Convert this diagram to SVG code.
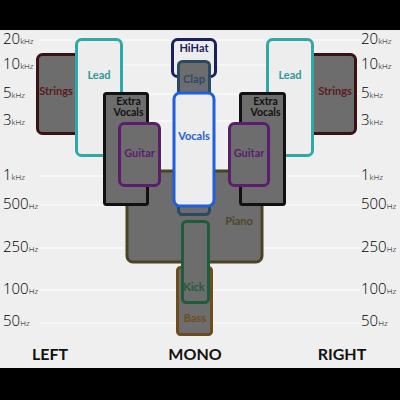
<svg xmlns="http://www.w3.org/2000/svg" width="400" height="400" viewBox="0 0 400 400">
<style>
.ax{font-family:"Open Sans","Liberation Sans",sans-serif;font-weight:300;font-size:15px;fill:#000}
.u{font-size:8px}
.grid{stroke:#ffffff;stroke-width:1.2}
.box{fill:#6d6d6d;stroke-width:3}
.lt{fill:#ededed}
.lb{font-family:"Lato","Liberation Sans",sans-serif;font-weight:bold;font-size:11px;text-anchor:middle}
.ev{font-size:10.5px}
.side{font-family:"Lato","Liberation Sans",sans-serif;font-weight:bold;font-size:16px;fill:#111;text-anchor:middle}
</style>
<rect x="0" y="0" width="400" height="400" fill="#efefef"/>
<rect x="0" y="0" width="400" height="30" fill="#000"/>
<rect x="0" y="368" width="400" height="32" fill="#000"/>
<g id="grid">
<line class="grid" x1="40" y1="40" x2="360" y2="40"/>
<line class="grid" x1="40" y1="65" x2="360" y2="65"/>
<line class="grid" x1="40" y1="94" x2="360" y2="94"/>
<line class="grid" x1="40" y1="121" x2="360" y2="121"/>
<line class="grid" x1="40" y1="176" x2="360" y2="176"/>
<line class="grid" x1="40" y1="205" x2="360" y2="205"/>
<line class="grid" x1="40" y1="248" x2="360" y2="248"/>
<line class="grid" x1="40" y1="290" x2="360" y2="290"/>
<line class="grid" x1="40" y1="323" x2="360" y2="323"/>
</g>
<g id="axis-left" class="ax">
<text x="3" y="44">20<tspan class="u">kHz</tspan></text>
<text x="3" y="69">10<tspan class="u">kHz</tspan></text>
<text x="3" y="98">5<tspan class="u">kHz</tspan></text>
<text x="3" y="125">3<tspan class="u">kHz</tspan></text>
<text x="3" y="180">1<tspan class="u">kHz</tspan></text>
<text x="3" y="209">500<tspan class="u">Hz</tspan></text>
<text x="3" y="252">250<tspan class="u">Hz</tspan></text>
<text x="3" y="294">100<tspan class="u">Hz</tspan></text>
<text x="3" y="326">50<tspan class="u">Hz</tspan></text>
</g>
<g id="axis-right" class="ax">
<text x="361" y="44">20<tspan class="u">kHz</tspan></text>
<text x="361" y="69">10<tspan class="u">kHz</tspan></text>
<text x="361" y="98">5<tspan class="u">kHz</tspan></text>
<text x="361" y="125">3<tspan class="u">kHz</tspan></text>
<text x="361" y="180">1<tspan class="u">kHz</tspan></text>
<text x="361" y="209">500<tspan class="u">Hz</tspan></text>
<text x="361" y="252">250<tspan class="u">Hz</tspan></text>
<text x="361" y="294">100<tspan class="u">Hz</tspan></text>
<text x="361" y="326">50<tspan class="u">Hz</tspan></text>
</g>
<g id="strings-left"><rect class="box" x="37.5" y="54.5" width="50" height="79" rx="5" stroke="#3b1214"/><text class="lb" x="56" y="95" fill="#5c1a1e">Strings</text></g>
<g id="strings-right"><rect class="box" x="305" y="54.5" width="50.5" height="79" rx="5" stroke="#3b1214"/><text class="lb" x="335" y="95" fill="#5c1a1e">Strings</text></g>
<g id="lead-left"><rect class="box lt" x="76.5" y="39.5" width="45" height="116" rx="5" stroke="#2fa8a8"/><text class="lb" x="99" y="79" fill="#2b9a9c">Lead</text></g>
<g id="lead-right"><rect class="box lt" x="267.5" y="39.5" width="45" height="116" rx="5" stroke="#2fa8a8"/><text class="lb" x="290" y="79" fill="#2b9a9c">Lead</text></g>
<g id="piano"><rect class="box" x="127" y="171" width="135" height="91" rx="6" stroke="#4a4420"/><text class="lb" x="239" y="225" fill="#4d4622">Piano</text></g>
<g id="extra-vocals-left"><rect class="box" x="104.5" y="93.5" width="43" height="111" rx="2" stroke="#111"/><text class="lb ev" x="128.5" y="104.5" fill="#111">Extra</text><text class="lb ev" x="128.5" y="116" fill="#111">Vocals</text></g>
<g id="extra-vocals-right"><rect class="box" x="240.5" y="93.5" width="44" height="111" rx="2" stroke="#111"/><text class="lb ev" x="265.5" y="104.5" fill="#111">Extra</text><text class="lb ev" x="265.5" y="116" fill="#111">Vocals</text></g>
<g id="guitar-left"><rect class="box" x="119.5" y="123.5" width="40" height="62" rx="5" stroke="#5b1e6e"/><text class="lb" x="139.5" y="157" fill="#5b1e6e">Guitar</text></g>
<g id="guitar-right"><rect class="box" x="229.5" y="123.5" width="39" height="62" rx="5" stroke="#5b1e6e"/><text class="lb" x="249" y="157" fill="#5b1e6e">Guitar</text></g>
<g id="bass"><rect class="box" x="177.5" y="267.5" width="34" height="67" rx="3" stroke="#6e4c1e"/><text class="lb" x="195" y="322" fill="#6e4c1e">Bass</text></g>
<g id="kick"><rect class="box" x="182.5" y="221.5" width="26" height="81" rx="4" stroke="#1f5c3c"/><text class="lb" x="194" y="291" fill="#1f5c3c">Kick</text></g>
<g id="hihat"><rect class="box lt" x="172.5" y="39.5" width="43" height="37" rx="5" stroke="#1b2160"/><text class="lb" x="194" y="52" fill="#1b2160">HiHat</text></g>
<g id="clap"><rect class="box" x="178.5" y="61.5" width="31" height="153" rx="4" stroke="#2a4a60"/><text class="lb" x="194" y="83" fill="#2a4a68">Clap</text></g>
<g id="vocals"><rect class="box lt" x="174" y="93" width="40" height="113" rx="6" stroke="#1c5fe0" stroke-width="4"/><text class="lb" x="194" y="140" fill="#1c5fd8">Vocals</text></g>
<g id="bottom-labels">
<text class="side" x="50" y="360">LEFT</text>
<text class="side" x="195" y="360">MONO</text>
<text class="side" x="342" y="360">RIGHT</text>
</g>
<g id="connectors"></g>
</svg>
